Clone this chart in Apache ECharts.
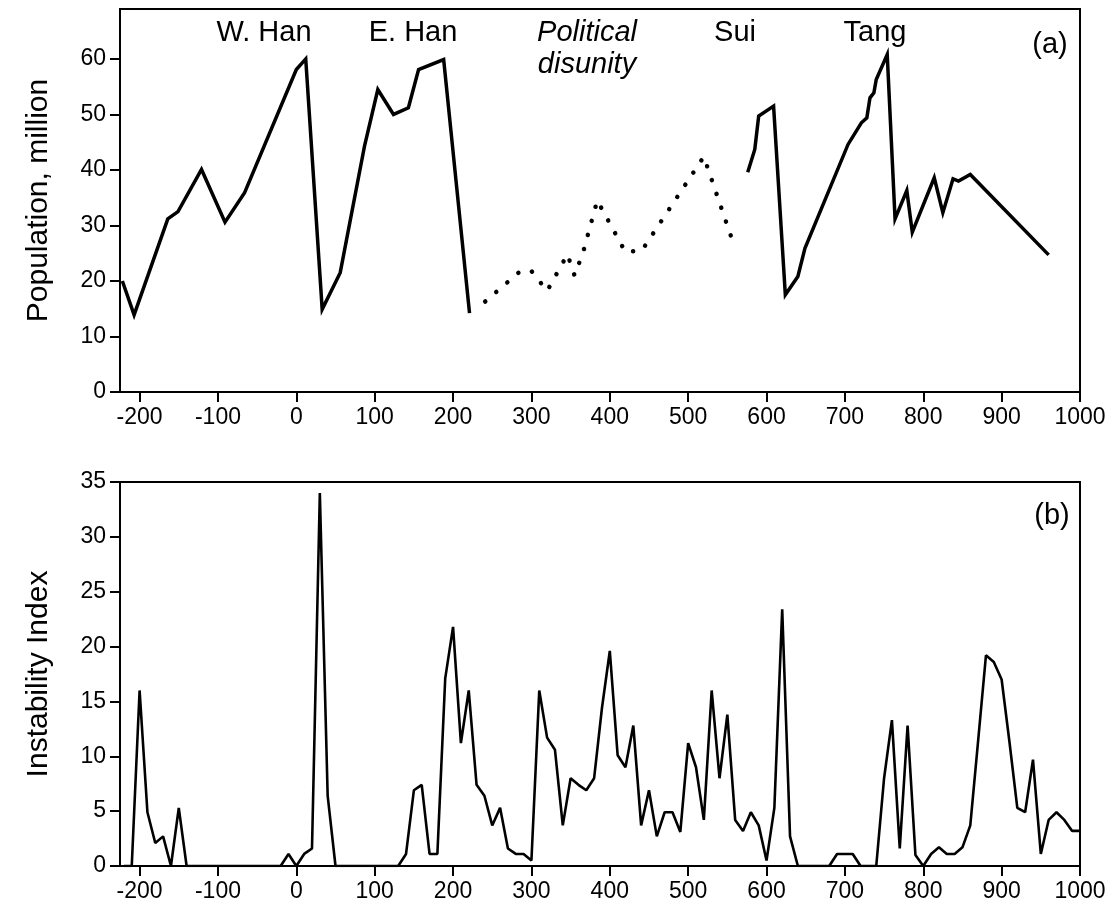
<!DOCTYPE html>
<html><head><meta charset="utf-8">
<script src="https://cdn.jsdelivr.net/npm/echarts@6/dist/echarts.min.js"></script>
<style>html,body{margin:0;padding:0;background:#fff}#c{width:1117px;height:923px}</style>
</head><body><div id="c"></div>
<script>
// ---- Panel (a): population, million ----
const hanYears = [-222,-207,-164,-151,-121,-91,-66,0,12,33,56,87,104,124,143,156,188,221];
const hanPop   = [20.0,13.9,31.2,32.5,40.1,30.6,35.9,58.1,60.0,14.9,21.5,44.3,54.5,50.0,51.2,58.1,59.9,14.2];
const disunityYears = [241,286,300,320,346,355,366,384,420,441,520,556];
const disunityPop   = [16.3,21.8,21.8,18.2,24.8,21.0,25.2,34.5,25.2,25.5,42.4,27.5];
const suiTangYears = [576,585,590,609,624,640,649,704,721,728,732,737,740,754,764,779,786,814,825,838,845,860,960];
const suiTangPop   = [39.6,43.7,49.7,51.5,17.5,20.8,25.9,44.6,48.5,49.4,53.0,53.9,56.3,60.8,31.2,36.3,28.8,38.6,32.3,38.4,38.0,39.2,24.7];

// ---- Panel (b): instability index, decades -220 .. 1000 ----
const instabilityYears = [];
for (let y = -220; y <= 1000; y += 10) instabilityYears.push(y);
const instability = [
  0,0,16.0,4.9,2.1,2.7,0,5.3,0,            // -220 .. -140
  0,0,0,0,0,0,0,0,0,0,0,                     // -130 .. -30
  0,1.1,0,1.1,1.6,34.0,6.4,0,                // -20 .. 50
  0,0,0,0,0,0,0,0,                           // 60 .. 130
  1.1,6.9,7.4,1.1,1.1,17.1,21.8,11.2,16.0,   // 140 .. 220
  7.4,6.4,3.7,5.3,1.6,1.1,1.1,0.5,           // 230 .. 300
  16.0,11.7,10.6,3.7,8.0,7.4,6.9,8.0,14.4,19.6, // 310 .. 400
  10.1,9.0,12.8,3.7,6.9,2.7,4.9,4.9,3.1,11.2,   // 410 .. 500
  9.0,4.2,16.0,8.0,13.8,4.2,3.2,4.9,3.7,0.5,    // 510 .. 600
  5.3,23.4,2.7,0,0,0,0,0,1.1,1.1,               // 610 .. 700
  1.1,0,0,0,8.0,13.3,1.6,12.8,1.0,0,            // 710 .. 800
  1.1,1.7,1.1,1.1,1.7,3.7,11.4,19.2,18.6,17.0,  // 810 .. 900
  11.3,5.3,4.9,9.7,1.1,4.2,4.9,4.2,3.2,3.2      // 910 .. 1000
];

const xTicks = [-200,-100,0,100,200,300,400,500,600,700,800,900,1000];
const popTicks = [0,10,20,30,40,50,60];
const instTicks = [0,5,10,15,20,25,30,35];

const zip = (a, b) => a.map((v, i) => [v, b[i]]);
const FONT = 'Liberation Sans, Arial, sans-serif';

function xAxis(gi) {
  return {
    type: 'value', gridIndex: gi, min: -225, max: 1000,
    axisLine: { show: true, onZero: false, lineStyle: { color: '#000', width: 2 } },
    axisTick: { show: true, inside: false, length: 10, customValues: xTicks, lineStyle: { color: '#000', width: 2 } },
    axisLabel: { customValues: xTicks, color: '#000', fontSize: 23, fontFamily: FONT, margin: 14,
                 formatter: v => String(v) },
    splitLine: { show: false }
  };
}
function yAxis(gi, max, ticks, name) {
  return {
    type: 'value', gridIndex: gi, min: 0, max: max,
    name: name, nameLocation: 'middle', nameGap: 66, nameRotate: 90,
    nameTextStyle: { color: '#000', fontSize: 30, fontFamily: FONT },
    axisLine: { show: true, onZero: false, lineStyle: { color: '#000', width: 2 } },
    axisTick: { show: true, inside: false, length: 10, customValues: ticks, lineStyle: { color: '#000', width: 2 } },
    axisLabel: { customValues: ticks, color: '#000', fontSize: 23, fontFamily: FONT, margin: 14,
                 formatter: v => String(v) },
    splitLine: { show: false }
  };
}

const chart = echarts.init(document.getElementById('c'), null, { renderer: 'canvas' });
const txt = (t, x, y, extra) => ({
  type: 'text', x: x, y: y, silent: true,
  style: Object.assign({ text: t, fill: '#000', font: '29px ' + FONT, align: 'center', verticalAlign: 'middle', textAlign: 'center', textVerticalAlign: 'middle' }, extra || {})
});
chart.setOption({
  animation: false,
  backgroundColor: '#fff',
  grid: [
    { left: 120, top: 9, width: 960, height: 383, show: true, borderColor: '#000', borderWidth: 2, outerBoundsMode: 'none', containLabel: false },
    { left: 120, top: 482, width: 960, height: 384, show: true, borderColor: '#000', borderWidth: 2, outerBoundsMode: 'none', containLabel: false }
  ],
  xAxis: [xAxis(0), xAxis(1)],
  yAxis: [yAxis(0, 69, popTicks, 'Population, million'), yAxis(1, 35, instTicks, 'Instability Index')],
  series: [
    { type: 'line', xAxisIndex: 0, yAxisIndex: 0, data: zip(hanYears, hanPop), showSymbol: false, symbol: 'none',
      lineStyle: { color: '#000', width: 3.5, join: 'miter' } },
    { type: 'line', xAxisIndex: 0, yAxisIndex: 0, data: zip(disunityYears, disunityPop), showSymbol: false, symbol: 'none',
      lineStyle: { color: '#000', width: 4.5, type: [0.1, 14.5], cap: 'round' } },
    { type: 'line', xAxisIndex: 0, yAxisIndex: 0, data: zip(suiTangYears, suiTangPop), showSymbol: false, symbol: 'none',
      lineStyle: { color: '#000', width: 3.5, join: 'miter' } },
    { type: 'line', xAxisIndex: 1, yAxisIndex: 1, data: zip(instabilityYears, instability), showSymbol: false, symbol: 'none',
      lineStyle: { color: '#000', width: 2.6 } }
  ],
  graphic: [
    txt('W. Han', 264, 33),
    txt('E. Han', 413, 33),
    txt('Political', 587, 33, { font: 'italic 29px ' + FONT }),
    txt('disunity', 587, 65, { font: 'italic 29px ' + FONT }),
    txt('Sui', 735, 33),
    txt('Tang', 875, 33),
    txt('(a)', 1050, 45),
    txt('(b)', 1052, 516)
  ]
});
</script>
</body></html>
